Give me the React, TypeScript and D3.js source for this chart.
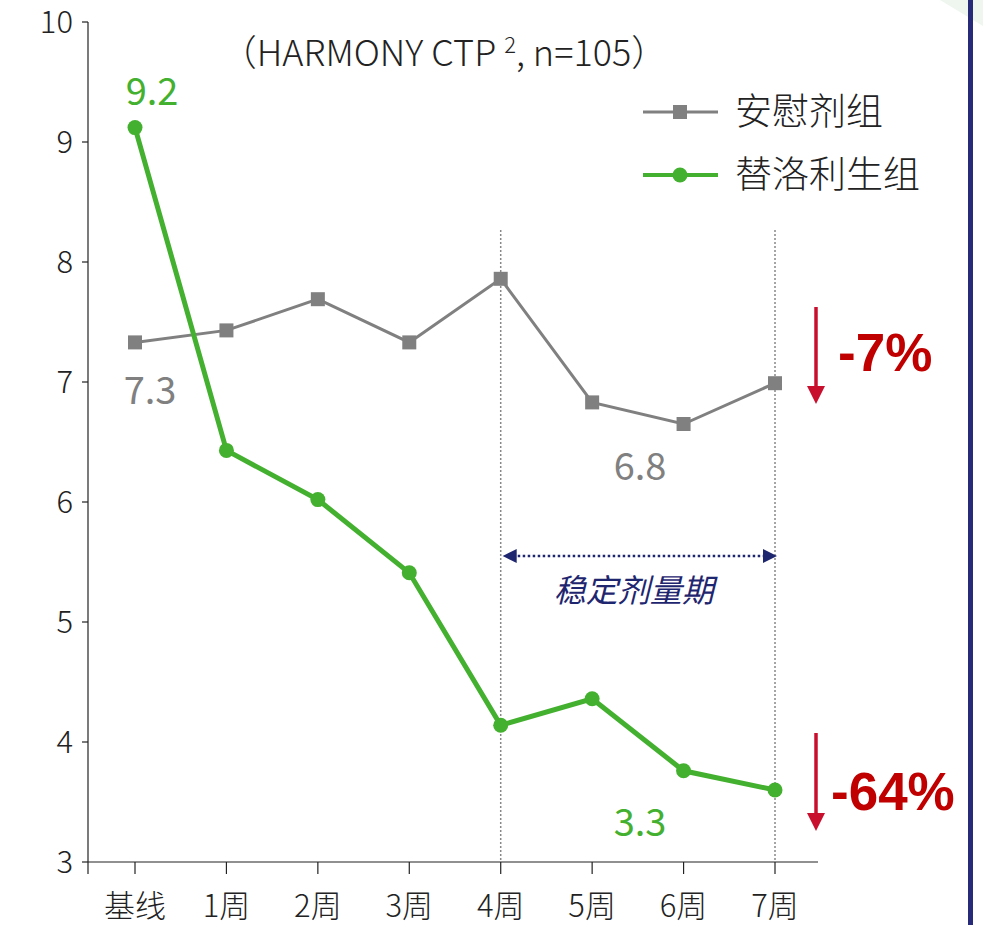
import * as d3 from 'd3';
import { useEffect, useRef } from 'react';

const categories = ['基线', '1周', '2周', '3周', '4周', '5周', '6周', '7周'];
const placebo = [7.33, 7.43, 7.69, 7.33, 7.86, 6.83, 6.65, 6.99];
const pitolisant = [9.12, 6.43, 6.02, 5.41, 4.14, 4.36, 3.76, 3.6];
const yTicks = [3, 4, 5, 6, 7, 8, 9, 10];
const seriesNames = ['安慰剂组', '替洛利生组'];

const GREEN = '#44b02f';
const GRAY = '#808080';
const NAVY = '#1f2670';
const RED = '#c00000';
const FONT = '"Noto Sans CJK SC", "Noto Sans", sans-serif';

const App = () => {
    const ref = useRef<SVGSVGElement | null>(null);

    useEffect(() => {
        if (!ref.current) return;
        const svg = d3.select(ref.current);
        svg.selectAll('*').remove();

        const x = d3.scalePoint<string>().domain(categories).range([135, 775]);
        const y = d3.scaleLinear().domain([3, 10]).range([862, 22]);
        const axisLeft = 88;
        const axisRight = 818;

        // faint decoration top-right
        svg.append('polygon')
            .attr('points', '940,0 983,0 983,26')
            .attr('fill', '#eef6ef');
        // navy vertical rule
        svg.append('rect')
            .attr('x', 968).attr('y', 0).attr('width', 5).attr('height', 925)
            .attr('fill', '#262a78');

        // y axis
        svg.append('line')
            .attr('x1', axisLeft).attr('x2', axisLeft)
            .attr('y1', y(10)).attr('y2', y(3))
            .attr('stroke', '#222').attr('stroke-width', 1.2);
        yTicks.forEach(t => {
            svg.append('line')
                .attr('x1', axisLeft - 6).attr('x2', axisLeft)
                .attr('y1', y(t)).attr('y2', y(t))
                .attr('stroke', '#222').attr('stroke-width', 1.2);
            svg.append('text')
                .attr('x', axisLeft - 15).attr('y', y(t) + 11)
                .attr('text-anchor', 'end')
                .attr('font-size', 31).attr('font-weight', 300).attr('fill', '#222')
                .attr('font-family', FONT)
                .text(t);
        });

        // x axis
        svg.append('line')
            .attr('x1', axisLeft).attr('x2', axisRight)
            .attr('y1', y(3)).attr('y2', y(3))
            .attr('stroke', '#222').attr('stroke-width', 1.2);
        [axisLeft, ...categories.map(c => x(c)!)].forEach(px => {
            svg.append('line')
                .attr('x1', px).attr('x2', px)
                .attr('y1', y(3)).attr('y2', y(3) + 12)
                .attr('stroke', '#222').attr('stroke-width', 1.2);
        });
        categories.forEach(c => {
            svg.append('text')
                .attr('x', x(c)!).attr('y', 917)
                .attr('text-anchor', 'middle')
                .attr('font-size', 31).attr('font-weight', 300).attr('fill', '#222')
                .attr('font-family', FONT)
                .text(c);
        });

        // dotted verticals for stable dose period
        ['4周', '7周'].forEach(c => {
            svg.append('line')
                .attr('x1', x(c)!).attr('x2', x(c)!)
                .attr('y1', 230).attr('y2', y(3))
                .attr('stroke', '#888').attr('stroke-width', 1.5)
                .attr('stroke-dasharray', '2,2');
        });

        // double arrow
        const ax1 = x('4周')!;
        const ax2 = x('7周')!;
        const ay = 556;
        svg.append('line')
            .attr('x1', ax1 + 12).attr('x2', ax2 - 12)
            .attr('y1', ay).attr('y2', ay)
            .attr('stroke', NAVY).attr('stroke-width', 2.5)
            .attr('stroke-dasharray', '2.5,2.5');
        svg.append('polygon')
            .attr('points', `${ax1 + 2},${ay} ${ax1 + 16},${ay - 7} ${ax1 + 16},${ay + 7}`)
            .attr('fill', NAVY);
        svg.append('polygon')
            .attr('points', `${ax2 + 2},${ay} ${ax2 - 12},${ay - 7} ${ax2 - 12},${ay + 7}`)
            .attr('fill', NAVY);
        svg.append('text')
            .attr('x', (ax1 + ax2) / 2 - 4).attr('y', 602)
            .attr('text-anchor', 'middle')
            .attr('font-size', 32).attr('font-style', 'italic')
            .attr('fill', NAVY).attr('font-family', FONT)
            .text('稳定剂量期');

        // lines
        const line = d3.line<number>()
            .x((_d, i) => x(categories[i])!)
            .y(d => y(d));

        svg.append('path')
            .datum(placebo)
            .attr('d', line)
            .attr('fill', 'none')
            .attr('stroke', GRAY).attr('stroke-width', 3);
        svg.selectAll('.sq')
            .data(placebo)
            .enter().append('rect')
            .attr('x', (_d, i) => x(categories[i])! - 7)
            .attr('y', d => y(d) - 7)
            .attr('width', 14).attr('height', 14)
            .attr('fill', GRAY);

        svg.append('path')
            .datum(pitolisant)
            .attr('d', line)
            .attr('fill', 'none')
            .attr('stroke', GREEN).attr('stroke-width', 5);
        svg.selectAll('.dot')
            .data(pitolisant)
            .enter().append('circle')
            .attr('cx', (_d, i) => x(categories[i])!)
            .attr('cy', d => y(d))
            .attr('r', 7.5)
            .attr('fill', GREEN);

        // value labels
        const labels = [
            { text: '9.2', x: 152, y: 105, color: GREEN },
            { text: '7.3', x: 150, y: 404, color: GRAY },
            { text: '6.8', x: 640, y: 480, color: GRAY },
            { text: '3.3', x: 640, y: 836, color: GREEN }
        ];
        labels.forEach(l => {
            svg.append('text')
                .attr('x', l.x).attr('y', l.y)
                .attr('text-anchor', 'middle')
                .attr('font-size', 38).attr('fill', l.color)
                .attr('font-family', FONT)
                .text(l.text);
        });

        // title
        const title = svg.append('text')
            .attr('x', 444).attr('y', 66)
            .attr('text-anchor', 'middle')
            .attr('font-size', 36).attr('font-weight', 300).attr('fill', '#222')
            .attr('font-family', FONT);
        title.append('tspan').text('（HARMONY CTP ');
        title.append('tspan').attr('font-size', 22).attr('dy', -13).text('2');
        title.append('tspan').attr('dy', 13).text(', n=105）');

        // legend
        const legend = [
            { name: seriesNames[0], y: 112, color: GRAY, shape: 'square' },
            { name: seriesNames[1], y: 175, color: GREEN, shape: 'circle' }
        ];
        legend.forEach(l => {
            svg.append('line')
                .attr('x1', 643).attr('x2', 718)
                .attr('y1', l.y).attr('y2', l.y)
                .attr('stroke', l.color).attr('stroke-width', l.shape === 'square' ? 3 : 4);
            if (l.shape === 'square') {
                svg.append('rect')
                    .attr('x', 673).attr('y', l.y - 7)
                    .attr('width', 14).attr('height', 14)
                    .attr('fill', l.color);
            } else {
                svg.append('circle')
                    .attr('cx', 680).attr('cy', l.y).attr('r', 7.5)
                    .attr('fill', l.color);
            }
            svg.append('text')
                .attr('x', 735).attr('y', l.y + 13)
                .attr('font-size', 37).attr('font-weight', 300).attr('fill', '#222')
                .attr('font-family', FONT)
                .text(l.name);
        });

        // red change arrows
        const changes = [
            { text: '-7%', top: 307, bottom: 404, tx: 838, ty: 371 },
            { text: '-64%', top: 733, bottom: 831, tx: 831, ty: 810 }
        ];
        changes.forEach(c => {
            svg.append('line')
                .attr('x1', 816).attr('x2', 816)
                .attr('y1', c.top).attr('y2', c.bottom - 16)
                .attr('stroke', '#c8102e').attr('stroke-width', 3.5);
            svg.append('polygon')
                .attr('points', `807,${c.bottom - 18} 825,${c.bottom - 18} 816,${c.bottom}`)
                .attr('fill', '#c8102e');
            svg.append('text')
                .attr('x', c.tx).attr('y', c.ty)
                .attr('font-size', 53).attr('font-weight', 'bold')
                .attr('fill', RED)
                .attr('font-family', '"Liberation Sans", Arial, sans-serif')
                .text(c.text);
        });
    }, []);

    return (
        <svg ref={ref} width={983} height={925}
            style={{ position: 'absolute', left: 0, top: 0, background: '#fff' }} />
    );
};

export default App;
